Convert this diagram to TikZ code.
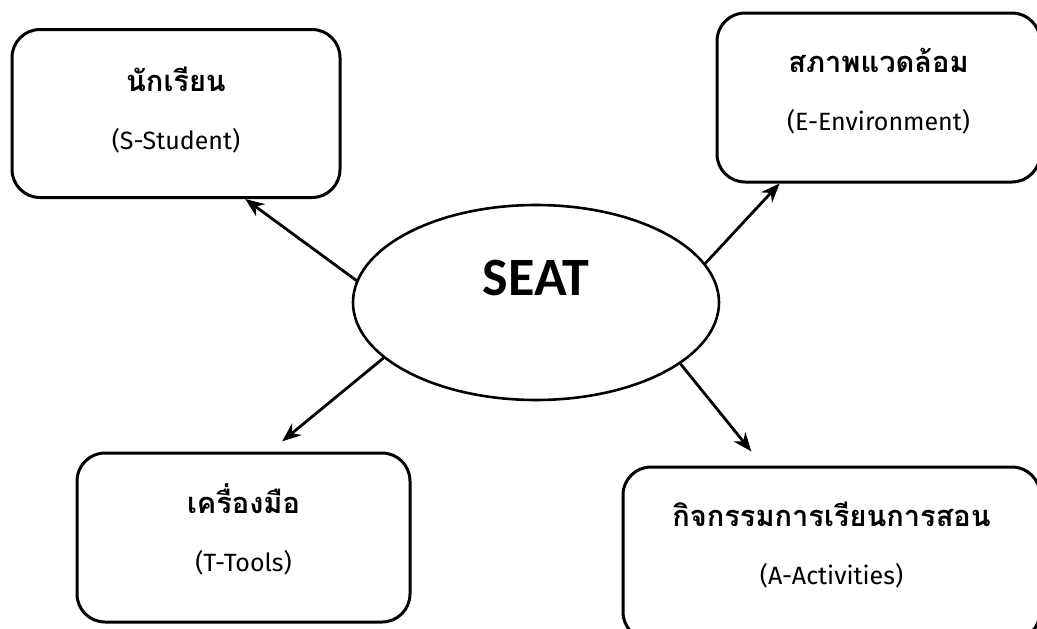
\documentclass[tikz,border=0pt]{standalone}
\usepackage{fontspec}
\newfontfamily\thaifont[Script=Thai]{Loma}
\newfontfamily\latinfont{Fira Sans}
\newfontfamily\seatfont{Carlito}
\newcommand{\thaiword}[1]{{\thaifont\bfseries\fontsize{29}{58}\selectfont #1}}
\usetikzlibrary{positioning, shapes.geometric, arrows.meta}

\begin{document}
\begin{tikzpicture}[x=1pt, y=-1pt,
  part node/.style={draw, line width=3pt, rounded corners=28pt, inner sep=0pt,
    align=center, font=\latinfont\fontsize{25}{58}\selectfont},
  link/.style={line width=2.8pt, -{Stealth[length=19pt,width=15pt]}}]

\useasboundingbox (0,0) rectangle (1037,629);
\clip (0,0) rectangle (1037,629);

\node[draw, ellipse, line width=2.6pt, minimum width=366pt, minimum height=195pt,
  inner sep=0pt, text height=35pt, text depth=50pt,
  font=\seatfont\bfseries\fontsize{54}{60}\selectfont] (seat) at (536,302.5) {SEAT};

\node[part node, minimum width=328pt, minimum height=168pt, text depth=10pt]
  (student) at (176,113.5) {\thaiword{นักเรียน}\\(S-Student)};
\node[part node, minimum width=323pt, minimum height=169pt, text depth=16pt]
  (env) at (878.5,97.5) {\thaiword{สภาพแวดล้อม}\\(E-Environment)};
\node[part node, minimum width=333pt, minimum height=169pt, text depth=20pt]
  (tools) at (243.5,537.5) {\thaiword{เครื่องมือ}\\(T-Tools)};
\node[part node, minimum width=417pt, minimum height=173pt, text depth=20pt]
  (act) at (831.5,553.5) {\thaiword{กิจกรรมการเรียนการสอน}\\(A-Activities)};

\draw[link] (seat.173) -- (student.-51);
\draw[link] (seat.13) -- (env.221);
\draw[link, shorten >=16pt] (seat.200) -- (tools.73);
\draw[link, shorten >=18pt] (seat.337) -- (act.128);

\end{tikzpicture}
\end{document}
